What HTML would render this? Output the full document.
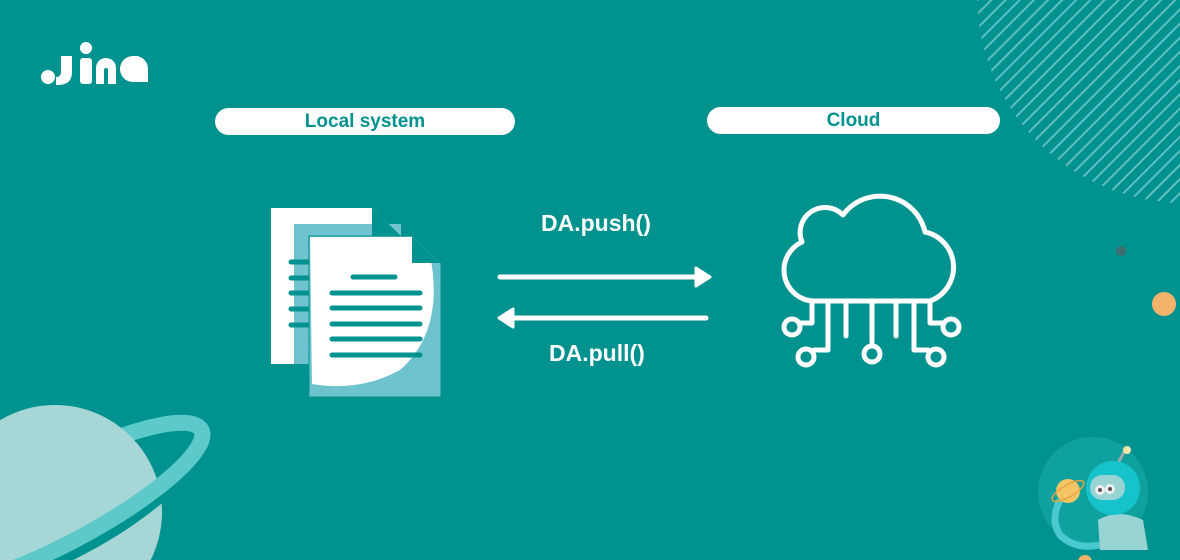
<!DOCTYPE html>
<html><head><meta charset="utf-8"><style>
html,body{margin:0;padding:0;width:1180px;height:560px;overflow:hidden}
body{background:#00928e;position:relative;font-family:"Liberation Sans",sans-serif}
.pill{position:absolute;background:#fff;border-radius:14px;color:#00928e;font-weight:bold;font-size:19px;text-align:center;line-height:27px}
.lbl{position:absolute;color:#fff;font-weight:bold;font-size:23px}
</style></head><body>
<svg width="1180" height="560" style="position:absolute;left:0;top:0">
<defs>
<pattern id="hatch" patternUnits="userSpaceOnUse" width="10" height="10" patternTransform="rotate(45)">
<rect x="0" y="0" width="2" height="10" fill="#6cc4c6"/>
</pattern>
<clipPath id="front"><rect x="-200" y="0" width="600" height="200"/></clipPath>
</defs>
<circle cx="1185" cy="-5" r="208" fill="url(#hatch)" opacity="0.9"/>
<!-- logo -->
<g fill="#fff">
<circle cx="48" cy="77" r="7"/>
<path d="M61 56 h11 v16 q0 13 -14 13 h-2 v-8 q5 0 5 -5z"/>
<circle cx="86" cy="48" r="6"/>
<rect x="80" y="58" width="12" height="26" rx="3"/>
<path d="M96 84 v-16 a10 10 0 0 1 20 0 v16 h-8 v-14 a2 2 0 0 0 -4 0 v14z"/>
<path d="M133 56 a13 13 0 0 0 0 26 h15 v-13 a13 13 0 0 0 -15 -13z"/>
</g>
<!-- documents -->
<polygon points="271,208 372,208 401,236 401,364 271,364" fill="#fff"/>
<rect x="294" y="224" width="107" height="140" fill="#6fc3cf"/>
<polygon points="372,208 401,236 372,236" fill="#00928e"/>
<g stroke="#00928e" stroke-width="5" stroke-linecap="round">
<line x1="291" y1="262" x2="310" y2="262"/><line x1="291" y1="278" x2="310" y2="278"/>
<line x1="291" y1="293" x2="310" y2="293"/><line x1="291" y1="309" x2="310" y2="309"/>
<line x1="291" y1="325" x2="310" y2="325"/>
</g>
<polygon points="309,236 412,236 441,263 441,397 309,397" fill="#6fc3cf" stroke="#00928e" stroke-width="1"/>
<path d="M310 237 H412 L430 255 Q445 330 400 370 Q360 392 312 384 Z" fill="#fff"/>
<polygon points="412,237 440,263 412,263" fill="#00928e"/>
<g stroke="#00928e" stroke-width="5" stroke-linecap="round">
<line x1="353" y1="277" x2="395" y2="277"/>
<line x1="332" y1="293" x2="420" y2="293"/><line x1="332" y1="308" x2="420" y2="308"/>
<line x1="332" y1="324" x2="420" y2="324"/><line x1="332" y1="339" x2="420" y2="339"/>
<line x1="332" y1="355" x2="420" y2="355"/>
</g>
<!-- arrows -->
<g stroke="#fff" stroke-width="5" stroke-linecap="round" fill="#fff">
<line x1="500" y1="277" x2="698" y2="277"/>
<polygon points="696,268 710,277 696,286" stroke-linejoin="round" stroke-width="3"/>
<line x1="510" y1="318" x2="706" y2="318"/>
<polygon points="513,309 499,318 513,327" stroke-linejoin="round" stroke-width="3"/>
</g>
<!-- cloud -->
<g fill="none" stroke="#fff" stroke-width="5" stroke-linecap="round" stroke-linejoin="round">
<path d="M812 301 A31 31 0 0 1 802 242 A25 25 0 0 1 843 215 A46 46 0 0 1 925 232 A36 36 0 0 1 930 301 Z"/>
<path d="M812 301 V323 H800"/><circle cx="792" cy="327" r="8"/>
<path d="M828 301 V350 H814"/><circle cx="806" cy="357" r="8"/>
<line x1="846" y1="301" x2="846" y2="336"/>
<line x1="872" y1="301" x2="872" y2="346"/><circle cx="872" cy="354" r="8"/>
<line x1="896" y1="301" x2="896" y2="336"/>
<path d="M914 301 V350 H928"/><circle cx="936" cy="357" r="8"/>
<path d="M930 301 V323 H944"/><circle cx="951" cy="327" r="8"/>
</g>
<!-- dots -->
<circle cx="1121" cy="251" r="5" fill="#3f6e6e"/>
<circle cx="1164" cy="304" r="12" fill="#f3b36a"/>
<circle cx="1085" cy="562" r="7" fill="#f3b36a"/>
<!-- planet -->
<g transform="translate(60,505) rotate(-28)">
<ellipse cx="0" cy="0" rx="160" ry="38" fill="none" stroke="#5ec9cb" stroke-width="16"/>
</g>
<circle cx="55" cy="512" r="107" fill="#a6d6d6"/>
<g transform="translate(60,505) rotate(-28)" clip-path="url(#front)">
<ellipse cx="0" cy="0" rx="160" ry="50" fill="none" stroke="#00928e" stroke-width="10"/>
<ellipse cx="0" cy="0" rx="160" ry="38" fill="none" stroke="#5ec9cb" stroke-width="16"/>
</g>
<!-- robot -->
<circle cx="1093" cy="492" r="55" fill="#0ea19d"/>
<path d="M1060 500 q-10 20 0 35 q15 15 40 10" fill="none" stroke="#49c9cd" stroke-width="7"/>
<path d="M1098 520 q20 -12 45 0 l5 30 h-48 z" fill="#98d4d4"/>
<line x1="1117" y1="465" x2="1124" y2="452" stroke="#9aa" stroke-width="3"/>
<circle cx="1127" cy="450" r="4" fill="#fbe3a8"/>
<circle cx="1113" cy="488" r="27" fill="#16c3cb"/>
<rect x="1090" y="475" width="35" height="25" rx="12" fill="#98d4d4"/>
<circle cx="1100" cy="490" r="5" fill="#eee"/><circle cx="1100" cy="490" r="2" fill="#555"/>
<circle cx="1110" cy="489" r="5" fill="#eee"/><circle cx="1110" cy="489" r="2" fill="#555"/>
<circle cx="1068" cy="491" r="12" fill="#f5c563"/>
<ellipse cx="1068" cy="491" rx="18" ry="6" transform="rotate(-30 1068 491)" fill="none" stroke="#e8a440" stroke-width="1.5"/>
</svg>
<div class="pill" style="left:215px;top:108px;width:300px">Local system</div>
<div class="pill" style="left:707px;top:107px;width:293px">Cloud</div>
<div class="lbl" style="left:541px;top:210px">DA.push()</div>
<div class="lbl" style="left:549px;top:340px">DA.pull()</div>
</body></html>
